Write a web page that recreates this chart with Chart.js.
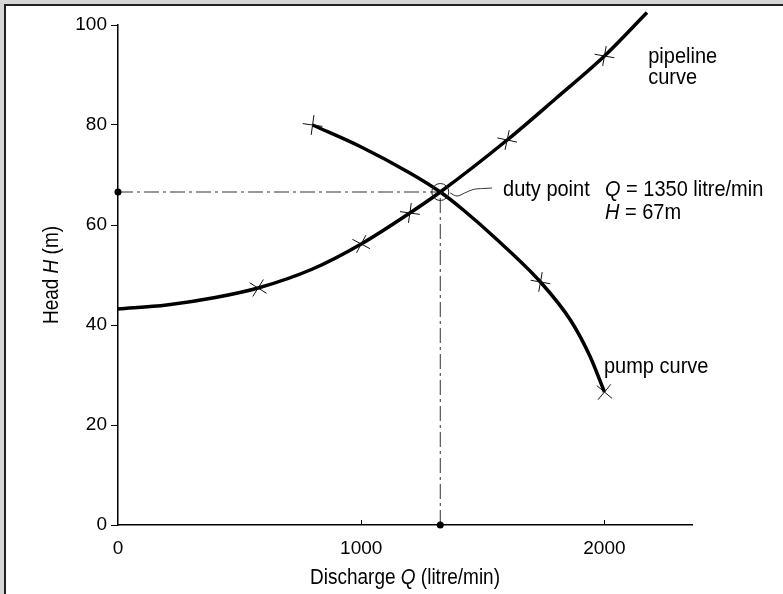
<!DOCTYPE html>
<html>
<head>
<meta charset="utf-8">
<script src="https://cdn.jsdelivr.net/npm/chart.js@4.4.1/dist/chart.umd.min.js"></script>
<style>
  html, body { margin: 0; padding: 0; background: #d6d6d6; }
  #frame {
    position: absolute; left: 4px; top: 4px; width: 779px; height: 590px;
    background: #fff; border-left: 2px solid #222; border-top: 2px solid #222;
    box-sizing: border-box;
  }
  #chart { position: absolute; left: 0; top: 0; }
</style>
</head>
<body>
<div id="frame"><canvas id="chart" width="777" height="588"></canvas></div>
<script>
// values: Q in litre/min, H in m
const pipelineQ = [0, 200, 400, 576, 800, 1000, 1200, 1325, 1600, 1800, 2000, 2175];
const pipelineH = [43.2, 44, 45.5, 47.4, 51.2, 56.2, 62.4, 66.6, 77, 85.3, 93.8, 102.5];
const pumpQ = [800, 1000, 1200, 1325, 1420, 1560, 1737, 1860, 1940, 2000];
const pumpH = [80, 75.6, 70.4, 66.6, 63.0, 57.0, 48.6, 41, 33.8, 26.6];

// hand-drawn crosses on the curves
const pipeMarkQ = [576, 1000, 1200, 1600, 2000];
const pipeMarkH = [47.4, 56.2, 62.4, 77, 93.8];
const pipeMarkRot = [32, 28, 8, 12, 10];
const pumpMarkQ = [800, 1737, 2000];
const pumpMarkH = [80, 48.6, 26.6];
const pumpMarkRot = [8, 10, 40];

const dutyQ = 1325;
const dutyH = 66.6;
const leaderQ = [1366, 1394, 1425, 1460, 1500, 1538];
const leaderH = [66.4, 65.8, 66.4, 67.1, 67.3, 67.4];

const xTicks = [0, 1000, 2000];
const yTicks = [0, 20, 40, 60, 80, 100];

const FONT = '"Liberation Sans", Arial, Helvetica, sans-serif';
const STRETCH = 1.12; // the scanned lettering is a bit taller than Arial

function pts(xs, ys) {
  return xs.map((x, i) => ({ x: x, y: ys[i] }));
}

// text pieces are [string, italic]
function drawRich(ctx, parts, x, y, size) {
  ctx.save();
  ctx.translate(x, y);
  ctx.scale(1, STRETCH);
  let cx = 0;
  ctx.textBaseline = 'middle';
  ctx.textAlign = 'left';
  parts.forEach(([s, it]) => {
    ctx.font = (it ? 'italic ' : '') + size + 'px ' + FONT;
    ctx.fillText(s, cx, 0);
    cx += ctx.measureText(s).width;
  });
  ctx.restore();
}

function richWidth(ctx, parts, size) {
  return parts.reduce((w, [s, it]) => {
    ctx.font = (it ? 'italic ' : '') + size + 'px ' + FONT;
    return w + ctx.measureText(s).width;
  }, 0);
}

const labelsPlugin = {
  id: 'labels',
  afterDraw(chart) {
    const { ctx, chartArea, scales: { x, y } } = chart;
    ctx.save();
    ctx.fillStyle = '#000';

    // short inward ticks on the Q axis
    ctx.strokeStyle = '#000';
    ctx.lineWidth = 1;
    xTicks.slice(1).forEach(v => {
      const px = Math.round(x.getPixelForValue(v)) + 0.5;
      ctx.beginPath();
      ctx.moveTo(px, chartArea.bottom);
      ctx.lineTo(px, chartArea.bottom - 5);
      ctx.stroke();
    });

    drawRich(ctx, [['pipeline', false]], x.getPixelForValue(2180), y.getPixelForValue(93.6), 20);
    drawRich(ctx, [['curve', false]], x.getPixelForValue(2180), y.getPixelForValue(89.4), 20);
    drawRich(ctx, [['duty point', false]], x.getPixelForValue(1583), y.getPixelForValue(67), 20);
    drawRich(ctx, [['Q', true], [' = 1350 litre/min', false]], x.getPixelForValue(2002), y.getPixelForValue(67), 20);
    drawRich(ctx, [['H', true], [' = 67m', false]], x.getPixelForValue(2002), y.getPixelForValue(62.4), 20);
    drawRich(ctx, [['pump curve', false]], x.getPixelForValue(1998), y.getPixelForValue(31.6), 20);

    // axis titles
    const xt = [['Discharge ', false], ['Q', true], [' (litre/min)', false]];
    const xw = richWidth(ctx, xt, 19);
    drawRich(ctx, xt, (chartArea.left + chartArea.right) / 2 - xw / 2, 572, 19);

    const yt = [['Head ', false], ['H', true], [' (m)', false]];
    const yw = richWidth(ctx, yt, 19);
    ctx.translate(46, (chartArea.top + chartArea.bottom) / 2);
    ctx.rotate(-Math.PI / 2);
    drawRich(ctx, yt, -yw / 2, 0, 19);
    ctx.restore();
  }
};

const dashDot = [15, 4, 3, 4];

new Chart(document.getElementById('chart'), {
  type: 'scatter',
  data: {
    datasets: [
      {
        data: pts(pipelineQ, pipelineH),
        showLine: true, borderColor: '#000', borderWidth: 3.5,
        pointRadius: 0, cubicInterpolationMode: 'monotone', clip: false, order: 1
      },
      {
        data: pts(pumpQ, pumpH),
        showLine: true, borderColor: '#000', borderWidth: 3.5,
        pointRadius: 0, cubicInterpolationMode: 'monotone', clip: false, order: 1
      },
      {
        data: pts(pipeMarkQ, pipeMarkH),
        pointStyle: 'cross', pointRadius: 10, pointBorderWidth: 1,
        pointBorderColor: '#111', pointRotation: pipeMarkRot, clip: false, order: 0
      },
      {
        data: pts(pumpMarkQ, pumpMarkH),
        pointStyle: 'cross', pointRadius: 10, pointBorderWidth: 1,
        pointBorderColor: '#111', pointRotation: pumpMarkRot, clip: false, order: 0
      },
      {
        data: pts([0, dutyQ], [dutyH, dutyH]),
        showLine: true, borderColor: '#333', borderWidth: 1, borderDash: dashDot,
        pointRadius: 0, clip: false, order: 2
      },
      {
        data: pts([dutyQ, dutyQ], [0, dutyH]),
        showLine: true, borderColor: '#333', borderWidth: 1, borderDash: dashDot,
        pointRadius: 0, clip: false, order: 2
      },
      {
        data: pts([0, dutyQ], [dutyH, 0]),
        pointRadius: 3.5, pointBackgroundColor: '#000', pointBorderWidth: 0,
        clip: false, order: 0
      },
      {
        data: pts([dutyQ], [dutyH]),
        pointRadius: 8.5, pointBackgroundColor: 'rgba(0,0,0,0)',
        pointBorderColor: '#222', pointBorderWidth: 1, clip: false, order: 0
      },
      {
        data: pts(leaderQ, leaderH),
        showLine: true, borderColor: '#333', borderWidth: 1,
        cubicInterpolationMode: 'monotone',
        pointRadius: 0, clip: false, order: 0
      }
    ]
  },
  options: {
    responsive: false,
    animation: false,
    events: [],
    layout: { padding: { left: 0, top: 19, right: 91, bottom: 0 } },
    plugins: { legend: { display: false }, tooltip: { enabled: false } },
    scales: {
      x: {
        type: 'linear', min: 0, max: 2360,
        afterBuildTicks: s => { s.ticks = xTicks.map(v => ({ value: v })); },
        afterFit: s => { s.height = 69; },
        grid: { drawOnChartArea: false, drawTicks: false },
        border: { color: '#000', width: 1.5 },
        ticks: { color: '#000', padding: 12, font: { family: FONT, size: 19 }, callback: v => String(v) }
      },
      y: {
        type: 'linear', min: 0, max: 100,
        afterBuildTicks: s => { s.ticks = yTicks.map(v => ({ value: v })); },
        afterFit: s => { s.width = 112; },
        grid: { drawOnChartArea: false, tickLength: 7, color: '#000', tickWidth: 1 },
        border: { color: '#000', width: 1.5 },
        ticks: { color: '#000', padding: 4, font: { family: FONT, size: 19 }, callback: v => String(v) }
      }
    }
  },
  plugins: [labelsPlugin]
});
</script>
</body>
</html>
